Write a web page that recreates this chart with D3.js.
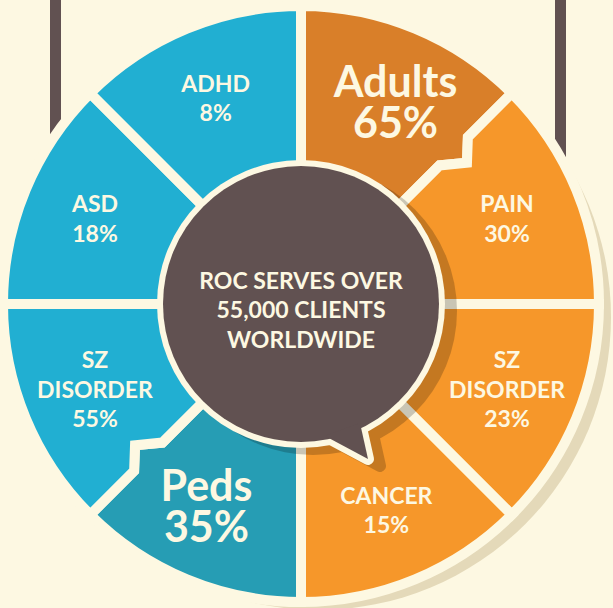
<!DOCTYPE html>
<html>
<head>
<meta charset="utf-8">
<script src="https://cdn.jsdelivr.net/npm/d3@7"></script>
<style>
  html, body { margin: 0; padding: 0; background: #fdf8e2; }
  svg { display: block; }
</style>
</head>
<body>
<div id="container"></div>
<script>
// the wheel: two groups (Adults / Peds), each with a header tile + 3 conditions
const labels   = ["Adults", "PAIN", "SZ\nDISORDER", "CANCER", "Peds", "SZ\nDISORDER", "ASD", "ADHD"];
const percents = [65, 30, 23, 15, 35, 55, 18, 8];
const groups   = ["adults", "adults", "adults", "adults", "peds", "peds", "peds", "peds"];
const isTotal  = [true, false, false, false, true, false, false, false];
const centerLines = ["ROC SERVES OVER", "55,000 CLIENTS", "WORLDWIDE"];

let w = 613;
let h = 608;
let cx = 301, cy = 304;
let cream = "#fdf8e2";

let data = labels.map((l, i) => ({
    label: l, pct: percents[i], group: groups[i], total: isTotal[i]
}));

let color = d3.scaleOrdinal()
    .domain(["adults-total", "adults", "peds-total", "peds"])
    .range(["#d97f29", "#f6972a", "#269db4", "#21afd2"]);

let viz = d3.select("#container")
    .append("svg")
    .attr("width", w)
    .attr("height", h);

viz.append("rect").attr("width", w).attr("height", h).attr("fill", cream);

// the two hanging bars behind the wheel
viz.selectAll(".hanger")
    .data([50, 555])
    .enter()
    .append("rect")
    .attr("x", d => d)
    .attr("y", 0)
    .attr("width", 11)
    .attr("height", 220)
    .attr("fill", "#615151");

let wheel = viz.append("g").attr("transform", `translate(${cx},${cy})`);

// drop shadow of the whole wheel + cream rim
wheel.append("circle").attr("cx", 17).attr("cy", 13).attr("r", 293).attr("fill", "#e4d9b9");
wheel.append("circle").attr("r", 301).attr("fill", cream);

let pie = d3.pie().sort(null).value(() => 1);
let arcs = pie(data);

let R = 298, r0 = 60;
let polar = (a, r) => [r * Math.sin(a), -r * Math.cos(a)];
// little speech-bubble notch that the header tile pokes into its neighbour
let notch = a => [polar(a, 236), polar(a + 0.08, 218), polar(a, 196)];

function slicePath(d, i) {
    let a0 = d.startAngle, a1 = d.endAngle;
    let prev = arcs[(i + arcs.length - 1) % arcs.length];
    let p = d3.path();
    p.moveTo(...polar(a0, r0));
    if (prev.data.total) {
        notch(a0).reverse().forEach(pt => p.lineTo(...pt));
    }
    p.lineTo(...polar(a0, R));
    p.arc(0, 0, R, a0 - Math.PI / 2, a1 - Math.PI / 2, false);
    if (d.data.total) {
        notch(a1).forEach(pt => p.lineTo(...pt));
    }
    p.lineTo(...polar(a1, r0));
    p.arc(0, 0, r0, a1 - Math.PI / 2, a0 - Math.PI / 2, true);
    p.closePath();
    return p.toString();
}

wheel.selectAll(".slice")
    .data(arcs)
    .enter()
    .append("path")
    .classed("slice", true)
    .attr("d", slicePath)
    .attr("fill", d => color(d.data.group + (d.data.total ? "-total" : "")))
    .attr("stroke", cream)
    .attr("stroke-width", 10)
    .attr("stroke-linejoin", "miter");

// centre speech bubble
let bubbleR = 138;
let tail = [[24, 132], [67, 155], [59, 119]];
let tailLine = d3.line();

let shadow = wheel.append("g").attr("opacity", 0.2).attr("transform", "translate(12,7)");
shadow.append("circle").attr("r", bubbleR + 6).attr("fill", "#000");
shadow.append("path").attr("d", tailLine(tail) + "Z").attr("fill", "#000")
    .attr("stroke", "#000").attr("stroke-width", 12).attr("stroke-linejoin", "round");

wheel.append("circle").attr("r", bubbleR + 6).attr("fill", cream);
wheel.append("path").attr("d", tailLine(tail) + "Z").attr("fill", cream)
    .attr("stroke", cream).attr("stroke-width", 12).attr("stroke-linejoin", "round");
wheel.append("circle").attr("r", bubbleR).attr("fill", "#615151");
wheel.append("path").attr("d", tailLine(tail) + "Z").attr("fill", "#615151");

wheel.selectAll(".centerText")
    .data(centerLines)
    .enter()
    .append("text")
    .classed("centerText", true)
    .attr("x", 0)
    .attr("y", (d, i) => -23.5 + i * 29.5 + 23 * 0.36)
    .attr("text-anchor", "middle")
    .attr("font-family", "Lato")
    .attr("font-weight", 700)
    .attr("font-size", 23)
    .attr("fill", cream)
    .text(d => d);

// labels
let labelR = 223;
let labelGroups = wheel.selectAll(".label")
    .data(arcs)
    .enter()
    .append("g")
    .classed("label", true)
    .attr("transform", d => {
        let mid = (d.startAngle + d.endAngle) / 2 + (d.data.total ? 0.045 : 0);
        let [x, y] = polar(mid, labelR);
        return `translate(${x},${y})`;
    });

labelGroups.each(function (d) {
    let lines = d.data.label.split("\n").concat([d.data.pct + "%"]);
    let fs = d.data.total ? 43 : 23;
    let lh = d.data.total ? 41.5 : 29.5;
    d3.select(this).selectAll("text")
        .data(lines)
        .enter()
        .append("text")
        .attr("x", 0)
        .attr("y", (t, i) => (i - (lines.length - 1) / 2) * lh + fs * 0.36)
        .attr("text-anchor", "middle")
        .attr("font-family", "Lato")
        .attr("font-weight", 700)
        .attr("font-size", fs)
        .attr("fill", cream)
        .text(t => t);
});
</script>
</body>
</html>
